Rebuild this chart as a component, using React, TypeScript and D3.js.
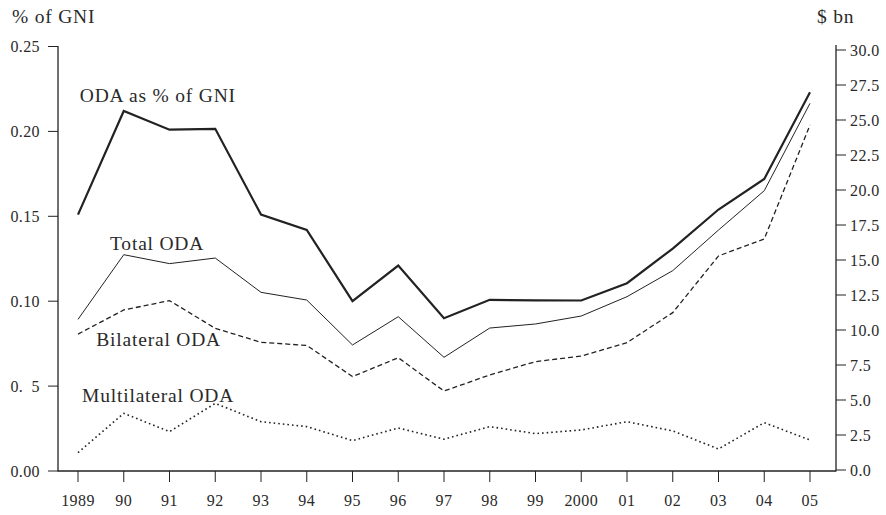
import React, { useEffect, useRef } from 'react'
import * as d3 from 'd3'

// years on the x axis
const years = d3.range(1989, 2006)
const yearLabels = ['1989', '90', '91', '92', '93', '94', '95', '96', '97', '98', '99', '2000', '01', '02', '03', '04', '05']

// ODA as % of GNI (left axis)
const odaPctGni = [0.151, 0.212, 0.201, 0.2015, 0.151, 0.142, 0.1, 0.121, 0.09, 0.1008, 0.1005, 0.1004, 0.1106, 0.131, 0.154, 0.172, 0.223]
// $ bn (right axis)
const totalOda = [10.76, 15.38, 14.74, 15.14, 12.69, 12.14, 8.93, 10.95, 8.05, 10.14, 10.43, 11.0, 12.38, 14.24, 17.14, 19.95, 26.19]
const bilateralOda = [9.71, 11.43, 12.1, 10.12, 9.12, 8.9, 6.67, 8.02, 5.64, 6.79, 7.74, 8.14, 9.1, 11.24, 15.29, 16.5, 24.64]
const multilateralOda = [1.24, 4.05, 2.74, 4.76, 3.45, 3.1, 2.1, 3.0, 2.2, 3.1, 2.6, 2.86, 3.45, 2.79, 1.5, 3.38, 2.14]

const leftTicks = [0, 0.05, 0.1, 0.15, 0.2, 0.25]
// the source misprints 0.05 as "0. 5" (figure space where the 0 should be)
const leftTickLabels = ['0.00', '0.\u20075', '0.10', '0.15', '0.20', '0.25']
const rightTicks = d3.range(0, 30.01, 2.5)

const W = 886
const H = 515
const FONT = '"Liberation Serif", "DejaVu Serif", serif'
const INK = '#222'
const TEXT = '#2a2a2a'

export default function App() {
  const ref = useRef<SVGSVGElement>(null)

  useEffect(() => {
    const svg = d3.select(ref.current!)
    svg.selectAll('*').remove()

    const x = d3.scaleLinear().domain([1989, 2005]).range([78, 810])
    const yL = d3.scaleLinear().domain([0, 0.25]).range([471, 46.5])
    const yR = d3.scaleLinear().domain([0, 30]).range([470, 50])

    const g = svg.append('g').style('font-family', FONT).attr('fill', TEXT)

    // axis frame
    g.append('line').attr('x1', 58).attr('x2', 58).attr('y1', 46).attr('y2', 471.5)
      .attr('stroke', INK).attr('stroke-width', 1.3)
    g.append('line').attr('x1', 836).attr('x2', 836).attr('y1', 45).attr('y2', 471.5)
      .attr('stroke', INK).attr('stroke-width', 1.3)
    g.append('line').attr('x1', 58).attr('x2', 836).attr('y1', 471).attr('y2', 471)
      .attr('stroke', INK).attr('stroke-width', 1.3)

    // left ticks
    leftTicks.forEach((t, i) => {
      const yy = yL(t)
      g.append('line').attr('x1', 48).attr('x2', 58).attr('y1', yy).attr('y2', yy)
        .attr('stroke', INK).attr('stroke-width', 1)
      g.append('text').attr('x', 40).attr('y', yy).attr('dy', '0.35em')
        .attr('text-anchor', 'end').style('font-size', '16px').style('letter-spacing', '0.4px')
        .style('white-space', 'pre').text(leftTickLabels[i])
    })

    // right ticks
    rightTicks.forEach(t => {
      const yy = yR(t)
      g.append('line').attr('x1', 836).attr('x2', 846).attr('y1', yy).attr('y2', yy)
        .attr('stroke', INK).attr('stroke-width', 1)
      g.append('text').attr('x', 850).attr('y', yy).attr('dy', '0.35em')
        .attr('text-anchor', 'start').style('font-size', '16px').style('letter-spacing', '0.4px')
        .text(t.toFixed(1))
    })

    // bottom ticks
    years.forEach((yr, i) => {
      const xx = x(yr)
      g.append('line').attr('x1', xx).attr('x2', xx).attr('y1', 471).attr('y2', 482)
        .attr('stroke', INK).attr('stroke-width', 1)
      g.append('text').attr('x', xx).attr('y', 506)
        .attr('text-anchor', 'middle').style('font-size', '16px').style('letter-spacing', '0.4px')
        .text(yearLabels[i])
    })

    // axis titles
    g.append('text').attr('x', 12).attr('y', 23).style('font-size', '19.5px')
      .style('letter-spacing', '0.8px').text('% of GNI')
    g.append('text').attr('x', 817).attr('y', 23).style('font-size', '19.5px')
      .style('letter-spacing', '0.8px').text('$ bn')

    // lines
    const lineL = d3.line<number>().x((_, i) => x(years[i])).y(d => yL(d))
    const lineR = d3.line<number>().x((_, i) => x(years[i])).y(d => yR(d))

    g.append('path').attr('d', lineL(odaPctGni)!).attr('fill', 'none')
      .attr('stroke', INK).attr('stroke-width', 2.2).attr('stroke-linejoin', 'miter')
    g.append('path').attr('d', lineR(totalOda)!).attr('fill', 'none')
      .attr('stroke', INK).attr('stroke-width', 1)
    g.append('path').attr('d', lineR(bilateralOda)!).attr('fill', 'none')
      .attr('stroke', INK).attr('stroke-width', 1.3).attr('stroke-dasharray', '5,3')
    g.append('path').attr('d', lineR(multilateralOda)!).attr('fill', 'none')
      .attr('stroke', INK).attr('stroke-width', 1.6).attr('stroke-dasharray', '1.6,3')

    // series labels
    const labels = [
      { text: 'ODA as % of GNI', xx: x(1989.04), yy: yL(0.2175) },
      { text: 'Total ODA', xx: x(1989.7), yy: yR(15.7) },
      { text: 'Bilateral ODA', xx: x(1989.4), yy: yR(8.86) },
      { text: 'Multilateral ODA', xx: x(1989.09), yy: yR(4.86) },
    ]
    labels.forEach(l => {
      g.append('text').attr('x', l.xx).attr('y', l.yy).style('font-size', '19.5px')
        .style('letter-spacing', '0.8px').text(l.text)
    })
  }, [])

  return (
    <svg
      ref={ref}
      width={W}
      height={H}
      style={{ position: 'absolute', left: 0, top: 0, background: '#fff' }}
    />
  )
}
